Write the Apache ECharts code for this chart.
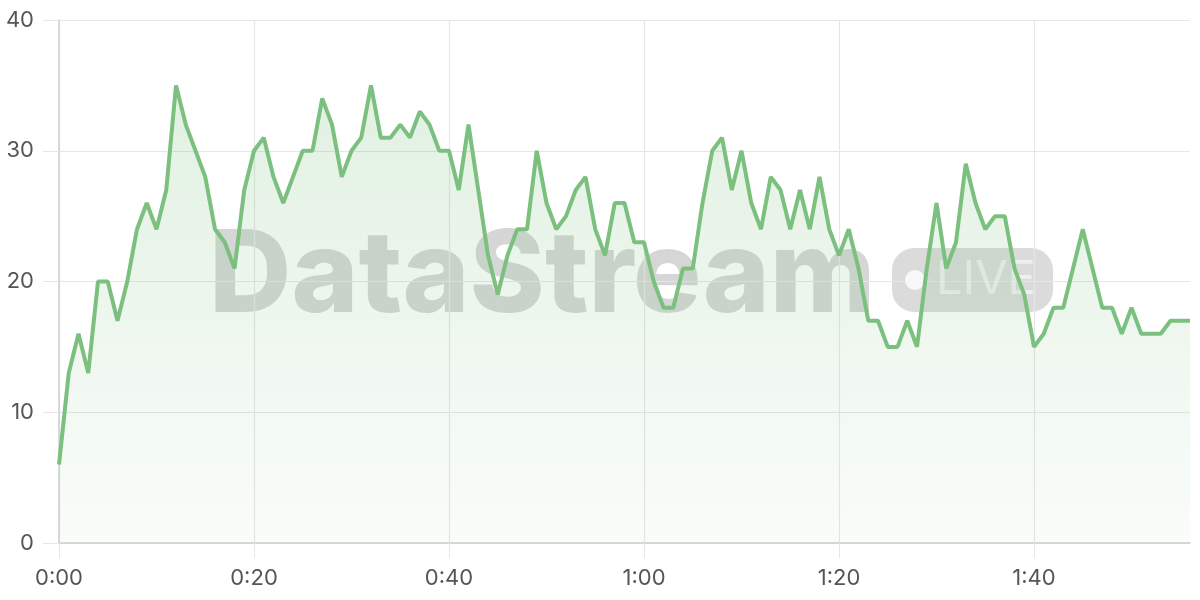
<!DOCTYPE html>
<html>
<head>
<meta charset="utf-8">
<title>DataStream live</title>
<script src="https://cdn.jsdelivr.net/npm/echarts@6/dist/echarts.min.js"></script>
<style>
  html, body { margin: 0; padding: 0; background: #fff; }
  #chart { width: 1200px; height: 600px; }
</style>
</head>
<body>
<div id="chart"></div>
<script>
// values, one per second
var values = [
    6, 13, 16, 13, 20, 20, 17, 20, 24, 26,
    24, 27, 35, 32, 30, 28, 24, 23, 21, 27,
    30, 31, 28, 26, 28, 30, 30, 34, 32, 28,
    30, 31, 35, 31, 31, 32, 31, 33, 32, 30,
    30, 27, 32, 27, 22, 19, 22, 24, 24, 30,
    26, 24, 25, 27, 28, 24, 22, 26, 26, 23,
    23, 20, 18, 18, 21, 21, 26, 30, 31, 27,
    30, 26, 24, 28, 27, 24, 27, 24, 28, 24,
    22, 24, 21, 17, 17, 15, 15, 17, 15, 21,
    26, 21, 23, 29, 26, 24, 25, 25, 21, 19,
    15, 16, 18, 18, 21, 24, 21, 18, 18, 16,
    18, 16, 16, 16, 17, 17, 17
];
// time labels m:ss
var times = [];
values.forEach(function (v, i) {
    var m = Math.floor(i / 60), s = i % 60;
    times.push(m + ':' + (s < 10 ? '0' + s : s));
});
var yTicks = [0, 10, 20, 30, 40];

var box = document.getElementById('chart');
var myChart = echarts.init(box);
var font = 'Inter, "Noto Sans", sans-serif';

var options = {
    animation: false,
    grid: { left: 59, right: 10, top: 20, bottom: 57 },
    graphic: [
        {
            type: 'text',
            z: 0,
            left: 209,
            top: 221,
            style: {
                text: 'DataStream',
                font: '800 114px ' + font,
                fill: 'rgba(0,0,0,0.16)'
            }
        },
        {
            type: 'rect',
            z: 0,
            shape: { x: 892, y: 248, width: 161, height: 64, r: 22 },
            style: { fill: 'rgba(0,0,0,0.14)' }
        },
        {
            type: 'circle',
            z: 1,
            shape: { cx: 915, cy: 280, r: 10 },
            style: { fill: 'rgba(255,255,255,0.8)' }
        },
        {
            type: 'text',
            z: 1,
            left: 936,
            top: 256,
            style: {
                text: 'LIVE',
                font: '400 47px ' + font,
                fill: 'rgba(255,255,255,0.55)'
            }
        }
    ],
    xAxis: {
        type: 'category',
        data: times,
        boundaryGap: false,
        axisLine: { lineStyle: { color: '#cfcfcf', width: 1.5 } },
        axisTick: { show: true, interval: 19, length: 15, lineStyle: { color: '#e6e6e6' } },
        axisLabel: {
            interval: 19,
            margin: 24,
            color: '#555',
            fontSize: 22,
            fontFamily: font
        },
        splitLine: { show: true, interval: 19, lineStyle: { color: '#e6e6e6', width: 1.2 } }
    },
    yAxis: {
        type: 'value',
        min: yTicks[0],
        max: yTicks[yTicks.length - 1],
        interval: 10,
        axisLine: { show: true, lineStyle: { color: '#cfcfcf', width: 1.5 } },
        axisTick: { show: true, length: 16, lineStyle: { color: '#e6e6e6' } },
        axisLabel: {
            margin: 25,
            color: '#555',
            fontSize: 22,
            fontFamily: font
        },
        splitLine: { lineStyle: { color: '#e6e6e6', width: 1.2 } }
    },
    series: [
        {
            type: 'line',
            data: values,
            symbol: 'none',
            z: 5,
            lineStyle: { color: '#7cc07f', width: 4 },
            areaStyle: {
                color: new echarts.graphic.LinearGradient(0, 0, 0, 1, [
                    { offset: 0, color: 'rgba(124,192,127,0.32)' },
                    { offset: 1, color: 'rgba(124,192,127,0.06)' }
                ])
            }
        }
    ]
};
myChart.setOption(options);
</script>
</body>
</html>
